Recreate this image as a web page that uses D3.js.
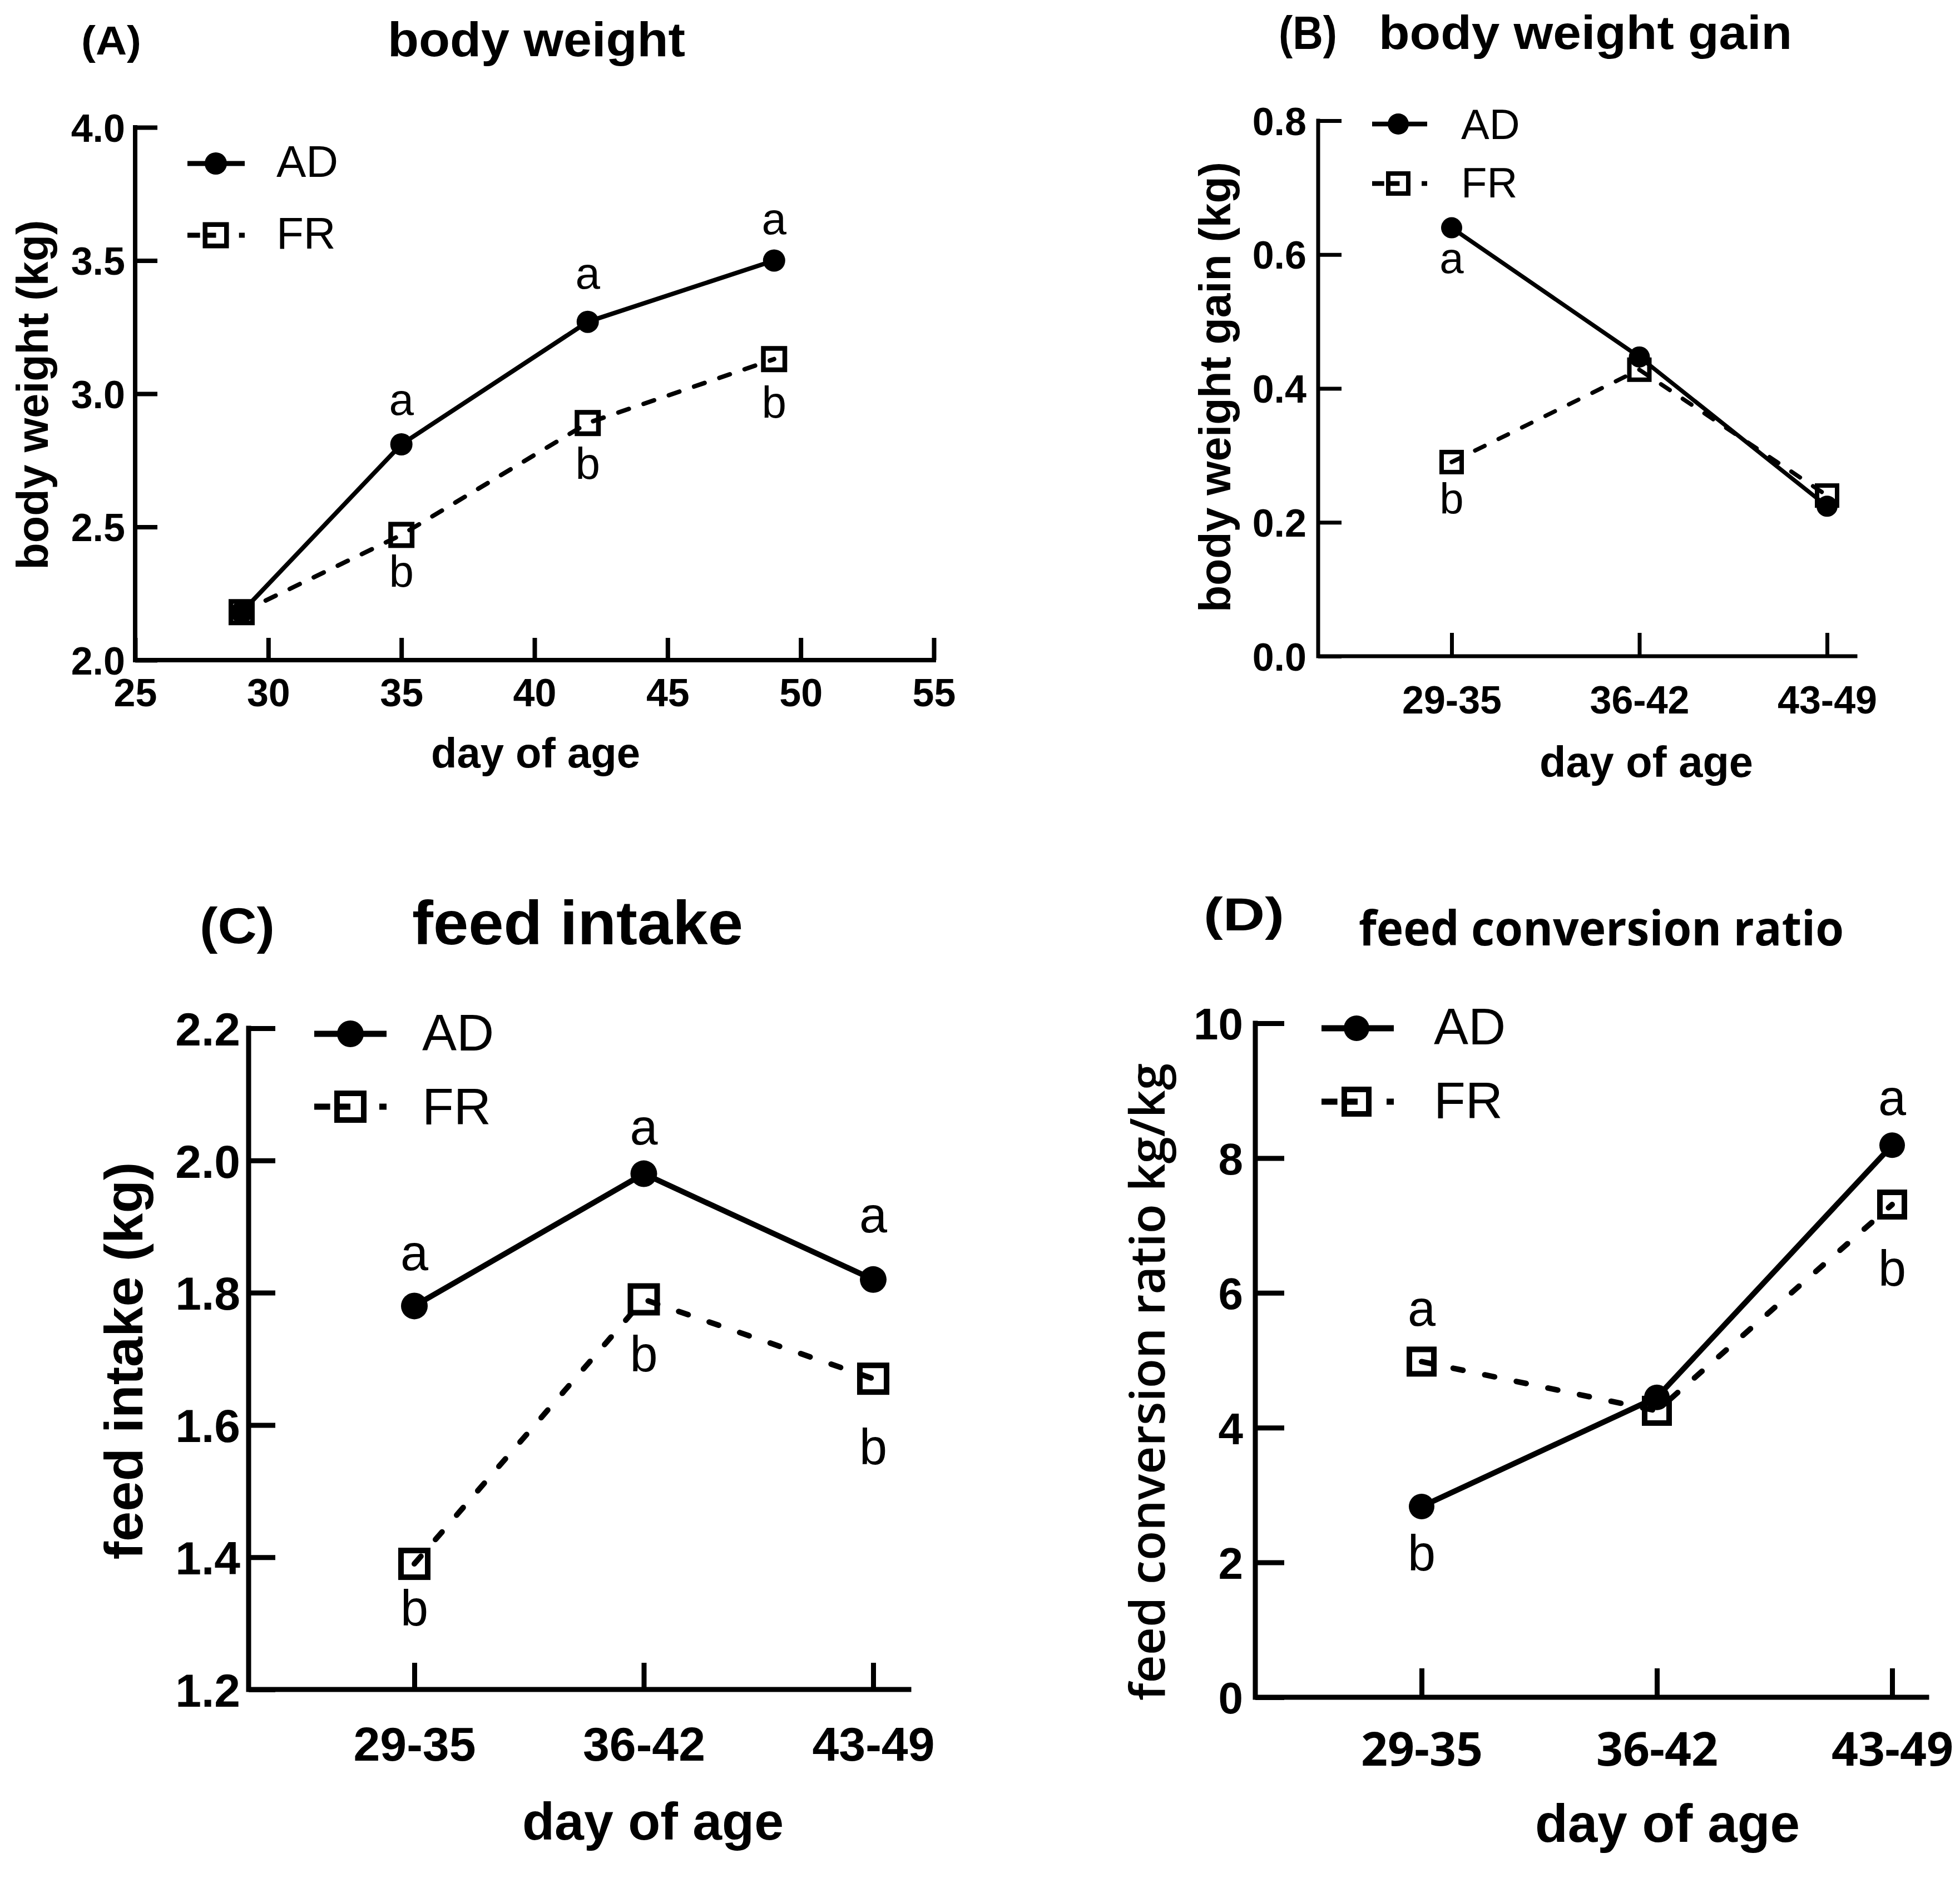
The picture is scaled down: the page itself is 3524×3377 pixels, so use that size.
<!DOCTYPE html>
<html><head><meta charset="utf-8">
<script src="https://cdn.jsdelivr.net/npm/d3@7"></script>
<style>body{margin:0;background:#fff}</style>
</head><body>
<svg id="c" width="3524" height="3377" xmlns="http://www.w3.org/2000/svg"></svg>
<script>
// ---------- data ----------
const seriesNames = ["AD", "FR"];
const daysA = [29, 35, 42, 49];
const bwAD = [2.18, 2.81, 3.27, 3.50];
const bwFR = [2.18, 2.47, 2.89, 3.13];
const periods = ["29-35", "36-42", "43-49"];
const gainAD = [0.64, 0.447, 0.224];
const gainFR = [0.29, 0.428, 0.240];
const intakeAD = [1.78, 1.98, 1.82];
const intakeFR = [1.39, 1.79, 1.67];
const fcrAD = [2.83, 4.45, 8.19];
const fcrFR = [4.98, 4.25, 7.31];
const ticksAx = [25, 30, 35, 40, 45, 50, 55];
const ticksAy = [2.0, 2.5, 3.0, 3.5, 4.0];
const ticksBy = [0, 0.2, 0.4, 0.6, 0.8];
const ticksCy = [1.2, 1.4, 1.6, 1.8, 2.0, 2.2];
const ticksDy = [0, 2, 4, 6, 8, 10];
const lettersA = [{x:35,t:"a",v:2.92},{x:42,t:"a",v:3.395},{x:49,t:"a",v:3.60},
                  {x:35,t:"b",v:2.276},{x:42,t:"b",v:2.68},{x:49,t:"b",v:2.91}];
const lettersB = [{x:"29-35",t:"a",v:0.572},{x:"29-35",t:"b",v:0.213}];
const lettersC = [{x:"29-35",t:"a",v:1.834},{x:"36-42",t:"a",v:2.024},{x:"43-49",t:"a",v:1.891},
                  {x:"29-35",t:"b",v:1.297},{x:"36-42",t:"b",v:1.681},{x:"43-49",t:"b",v:1.541}];
const lettersD = [{x:"29-35",t:"a",v:5.51},{x:"29-35",t:"b",v:1.885},
                  {x:"43-49",t:"a",v:8.64},{x:"43-49",t:"b",v:6.105}];

// ---------- drawing ----------
const svg = d3.select("#c");
svg.append("rect").attr("width",3524).attr("height",3377).attr("fill","#fff");
const SANS = "'Liberation Sans', Arial, sans-serif";
const OPEN = "'Open Sans', 'Liberation Sans', sans-serif";

function txt(g, s, o) {
  const t = g.append("text").text(s)
    .attr("font-family", o.ff || SANS)
    .attr("font-size", o.fs)
    .attr("font-weight", o.fw || "normal")
    .attr("fill", "#000");
  if (o.rot) {
    t.attr("transform", `translate(${o.x},${o.y}) rotate(-90)`).attr("text-anchor", "middle");
  } else {
    t.attr("x", o.x).attr("y", o.y).attr("text-anchor", o.anchor || "start");
  }
  if (o.tl) t.attr("textLength", o.tl).attr("lengthAdjust", "spacingAndGlyphs");
  return t;
}

function drawPanel(p) {
  const g = svg.append("g");
  const x = p.x, y = p.y;

  // y axis ticks
  const yg = g.append("g").attr("transform", `translate(${p.x0},0)`)
    .call(d3.axisLeft(y).tickValues(p.yTicks).tickSize(-p.tickLen).tickPadding(0).tickFormat(p.yFmt));
  yg.select(".domain").remove();
  yg.attr("font-family", null).attr("font-size", null);
  yg.selectAll(".tick line").attr("stroke", "#000").attr("stroke-width", p.axisW);
  yg.selectAll(".tick text").attr("x", -p.yPad).attr("dy", "0.36em")
    .attr("font-family", SANS).attr("font-weight", "bold").attr("font-size", p.yFs).attr("fill", "#000");

  // x axis ticks
  const xa = d3.axisBottom(x).tickSize(-p.tickLen).tickPadding(0);
  if (p.xTicks) xa.tickValues(p.xTicks);
  const xg = g.append("g").attr("transform", `translate(0,${p.y0})`).call(xa);
  xg.select(".domain").remove();
  xg.attr("font-family", null).attr("font-size", null);
  xg.selectAll(".tick line").attr("stroke", "#000").attr("stroke-width", p.axisW);
  xg.selectAll(".tick text").attr("y", p.xOff).attr("dy", 0)
    .attr("font-family", p.xFf || SANS).attr("font-weight", "bold").attr("font-size", p.xFs).attr("fill", "#000");

  // axis lines
  g.append("path")
    .attr("d", `M${p.x0},${y.range()[1]}V${p.y0}H${p.x1}`)
    .attr("fill", "none").attr("stroke", "#000").attr("stroke-width", p.axisW)
    .attr("stroke-linecap", "square").attr("stroke-linejoin", "miter");

  // series lines
  const line = d3.line().x((d, i) => x(p.xs[i])).y(d => y(d));
  g.append("path").attr("d", line(p.ad)).attr("fill", "none").attr("stroke", "#000")
    .attr("stroke-width", p.lineW).attr("stroke-linejoin", "round");
  g.append("path").attr("d", line(p.fr)).attr("fill", "none").attr("stroke", "#000")
    .attr("stroke-width", p.lineW).attr("stroke-dasharray", p.dash).attr("stroke-linecap", "round");

  // markers
  const s = p.sq - p.sqW;
  g.selectAll(null).data(p.fr).enter().append("rect")
    .attr("x", (d, i) => x(p.xs[i]) - s / 2).attr("y", d => y(d) - s / 2)
    .attr("width", s).attr("height", s)
    .attr("fill", "none").attr("stroke", "#000").attr("stroke-width", p.sqW);
  g.selectAll(null).data(p.ad).enter().append("circle")
    .attr("cx", (d, i) => x(p.xs[i])).attr("cy", d => y(d)).attr("r", p.r).attr("fill", "#000");

  // letters
  p.letters.forEach(l => txt(g, l.t, {x: x(l.x), y: y(l.v), fs: p.letFs, anchor: "middle"}));

  // legend
  const L = p.leg, len = L.x1 - L.x0;
  g.append("line").attr("x1", L.x0).attr("x2", L.x1).attr("y1", L.yAD).attr("y2", L.yAD)
    .attr("stroke", "#000").attr("stroke-width", p.lineW + 1);
  g.append("circle").attr("cx", L.cx).attr("cy", L.yAD).attr("r", p.r).attr("fill", "#000");
  g.append("line").attr("x1", L.x0).attr("x2", L.x1).attr("y1", L.yFR).attr("y2", L.yFR)
    .attr("stroke", "#000").attr("stroke-width", p.lineW + 1)
    .attr("stroke-dasharray", [0.22, 0.10, 0.18, 0.40, 0.10, 0].map(v => v * len).join(","));
  g.append("rect").attr("x", L.cx - s / 2).attr("y", L.yFR - s / 2).attr("width", s).attr("height", s)
    .attr("fill", "none").attr("stroke", "#000").attr("stroke-width", p.sqW);
  txt(g, seriesNames[0], {x: L.tx, y: L.bAD, fs: L.fs});
  txt(g, seriesNames[1], {x: L.tx, y: L.bFR, fs: L.fs});

  // titles and labels
  txt(g, p.tag.s, {x: p.tag.x, y: p.tag.y, fs: p.tag.fs, fw: "bold", tl: p.tag.tl, ff: p.tag.ff});
  txt(g, p.title.s, {x: p.title.x, y: p.title.y, fs: p.title.fs, fw: "bold", tl: p.title.tl, ff: p.title.ff});
  txt(g, p.ylab.s, {x: p.ylab.x, y: p.ylab.y, fs: p.ylab.fs, fw: p.ylab.fw || "bold", tl: p.ylab.tl, rot: true, ff: p.ylab.ff});
  txt(g, p.xlab.s, {x: p.xlab.x, y: p.xlab.y, fs: p.xlab.fs, fw: "bold", tl: p.xlab.tl, anchor: "middle"});
}

// Panel A
drawPanel({
  x: d3.scaleLinear().domain([25, 55]).range([243, 1679]),
  y: d3.scaleLinear().domain([2, 4]).range([1187, 229]),
  x0: 243, y0: 1187, x1: 1679, tickLen: 40, axisW: 8, lineW: 8, dash: "20,28", r: 20, sq: 47, sqW: 8.5,
  yTicks: ticksAy, yFmt: d3.format(".1f"), yPad: 18, yFs: 70,
  xTicks: ticksAx, xOff: 83, xFs: 70,
  xs: daysA, ad: bwAD, fr: bwFR, letters: lettersA, letFs: 80,
  leg: {x0: 337, x1: 440, cx: 388, yAD: 294, yFR: 423, tx: 497, bAD: 318, bFR: 447, fs: 80},
  tag: {s: "(A)", x: 146, y: 98, fs: 72, tl: 108},
  title: {s: "body weight", x: 697, y: 101, fs: 88, tl: 535},
  ylab: {s: "body weight (kg)", x: 86, y: 710, fs: 79, tl: 629},
  xlab: {s: "day of age", x: 963, y: 1380, fs: 76, tl: 376}
});

// Panel B
drawPanel({
  x: d3.scalePoint().domain(periods).range([2610, 3285]),
  y: d3.scaleLinear().domain([0, 0.8]).range([1180, 217]),
  x0: 2370, y0: 1180, x1: 3336, tickLen: 42, axisW: 7, lineW: 7.5, dash: "19,28", r: 19, sq: 44, sqW: 8,
  yTicks: ticksBy, yFmt: d3.format(".1f"), yPad: 21, yFs: 70,
  xOff: 103, xFs: 70,
  xs: periods, ad: gainAD, fr: gainFR, letters: lettersB, letFs: 78,
  leg: {x0: 2467, x1: 2566, cx: 2514, yAD: 223, yFR: 330, tx: 2627, bAD: 250, bFR: 355, fs: 76},
  tag: {s: "(B)", x: 2299, y: 88, fs: 84, tl: 105},
  title: {s: "body weight gain", x: 2479, y: 88, fs: 86, tl: 743},
  ylab: {s: "body weight gain (kg)", x: 2212, y: 696, fs: 79, tl: 810},
  xlab: {s: "day of age", x: 2960, y: 1397, fs: 78, tl: 384}
});

// Panel C
drawPanel({
  x: d3.scalePoint().domain(periods).range([745, 1570]),
  y: d3.scaleLinear().domain([1.2, 2.2]).range([3038, 1849]),
  x0: 447, y0: 3038, x1: 1634, tickLen: 48, axisW: 9, lineW: 10, dash: "18,40", r: 24, sq: 58, sqW: 10,
  yTicks: ticksCy, yFmt: d3.format(".1f"), yPad: 15, yFs: 84,
  xOff: 128, xFs: 86,
  xs: periods, ad: intakeAD, fr: intakeFR, letters: lettersC, letFs: 90,
  leg: {x0: 565, x1: 695, cx: 630, yAD: 1859, yFR: 1990, tx: 759, bAD: 1889, bFR: 2022, fs: 93},
  tag: {s: "(C)", x: 359, y: 1696, fs: 90, tl: 135},
  title: {s: "feed intake", x: 741, y: 1698, fs: 112, tl: 595},
  ylab: {s: "feed intake (kg)", x: 256, y: 2447, fs: 97, tl: 715},
  xlab: {s: "day of age", x: 1174, y: 3308, fs: 95, tl: 470}
});

// Panel D
drawPanel({
  x: d3.scalePoint().domain(periods).range([2556, 3402]),
  y: d3.scaleLinear().domain([0, 10]).range([3052, 1840]),
  x0: 2257, y0: 3052, x1: 3464, tickLen: 52, axisW: 9, lineW: 10, dash: "18,40", r: 23, sq: 54, sqW: 10,
  yTicks: ticksDy, yFmt: d3.format("d"), yPad: 22, yFs: 80,
  xOff: 123, xFs: 84, xFf: OPEN,
  xs: periods, ad: fcrAD, fr: fcrFR, letters: lettersD, letFs: 90,
  leg: {x0: 2376, x1: 2506, cx: 2439, yAD: 1849, yFR: 1981, tx: 2578, bAD: 1878, bFR: 2011, fs: 93},
  tag: {s: "(D)", x: 2164, y: 1673, fs: 84, tl: 145},
  title: {s: "feed conversion ratio", x: 2443, y: 1700, fs: 86, tl: 872, ff: OPEN},
  ylab: {s: "feed conversion ratio kg/kg", x: 2094, y: 2485, fs: 86, tl: 1146, ff: OPEN, fw: 600},
  xlab: {s: "day of age", x: 2998, y: 3312, fs: 96, tl: 476}
});
</script>
</body></html>
